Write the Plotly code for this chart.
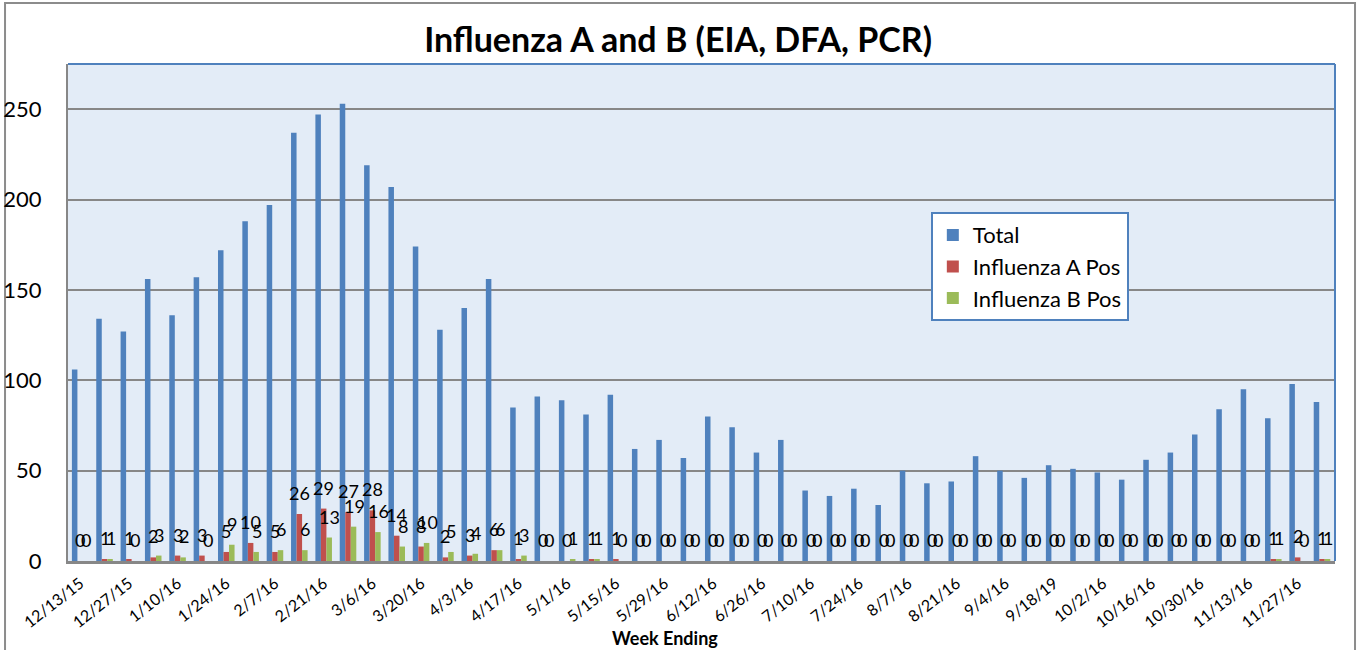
import plotly.graph_objects as go

weeks = ["12/13/15", "12/20/15", "12/27/15", "1/3/16", "1/10/16", "1/17/16", "1/24/16", "1/31/16",
         "2/7/16", "2/14/16", "2/21/16", "2/28/16", "3/6/16", "3/13/16", "3/20/16", "3/27/16",
         "4/3/16", "4/10/16", "4/17/16", "4/24/16", "5/1/16", "5/8/16", "5/15/16", "5/22/16",
         "5/29/16", "6/5/16", "6/12/16", "6/19/16", "6/26/16", "7/3/16", "7/10/16", "7/17/16",
         "7/24/16", "7/31/16", "8/7/16", "8/14/16", "8/21/16", "8/28/16", "9/4/16", "9/11/16",
         "9/18/19", "9/25/16", "10/2/16", "10/9/16", "10/16/16", "10/23/16", "10/30/16", "11/6/16",
         "11/13/16", "11/20/16", "11/27/16", "12/4/16"]

total = [106, 134, 127, 156, 136, 157, 172, 188, 197, 237, 247, 253, 219, 207, 174, 128,
         140, 156, 85, 91, 89, 81, 92, 62, 67, 57, 80, 74, 60, 67, 39, 36,
         40, 31, 50, 43, 44, 58, 50, 46, 53, 51, 49, 45, 56, 60, 70, 84,
         95, 79, 98, 88]

flu_a = [0, 1, 1, 2, 3, 3, 5, 10, 5, 26, 29, 27, 28, 14, 8, 2,
         3, 6, 1, 0, 0, 1, 1, 0, 0, 0, 0, 0, 0, 0, 0, 0,
         0, 0, 0, 0, 0, 0, 0, 0, 0, 0, 0, 0, 0, 0, 0, 0,
         0, 1, 2, 1]

flu_b = [0, 1, 0, 3, 2, 0, 9, 5, 6, 6, 13, 19, 16, 8, 10, 5,
         4, 6, 3, 0, 1, 1, 0, 0, 0, 0, 0, 0, 0, 0, 0, 0,
         0, 0, 0, 0, 0, 0, 0, 0, 0, 0, 0, 0, 0, 0, 0, 0,
         0, 1, 0, 1]

tick_labels = weeks[::2]

FONT = "Lato"
label_font = dict(family=FONT, size=18, color="black")

fig = go.Figure()
fig.add_trace(go.Bar(x=weeks, y=total, name="Total", marker_color="#4F81BD",
                     marker_line_width=0))
fig.add_trace(go.Bar(x=weeks, y=flu_a, name="Influenza A Pos", marker_color="#C0504D",
                     marker_line_width=0))
fig.add_trace(go.Bar(x=weeks, y=flu_b, name="Influenza B Pos", marker_color="#9BBB59",
                     marker_line_width=0))

annotations = []
for series, xs in ((flu_a, 0), (flu_b, 6)):
    for w, v in zip(weeks, series):
        annotations.append(dict(x=w, y=v, xref="x", yref="y", text=str(v), showarrow=False,
                                xanchor="center", yanchor="middle", xshift=xs, yshift=21,
                                font=label_font))
annotations.append(dict(text="<b>Week Ending</b>", xref="paper", yref="paper", x=0.471, y=-0.155,
                        xanchor="center", yanchor="middle", showarrow=False,
                        font=dict(family=FONT, size=18, color="black")))

fig.update_layout(
    width=1363, height=650,
    margin=dict(l=68, r=28, t=64, b=89, autoexpand=False),
    paper_bgcolor="white",
    plot_bgcolor="#E3ECF7",
    barmode="group",
    bargap=0.32,
    bargroupgap=0.0,
    title=dict(text="<b>Influenza A and B (EIA, DFA, PCR)</b>", x=0.4975, xanchor="center",
               y=0.938, yanchor="middle", font=dict(family=FONT, size=34, color="black")),
    font=dict(family=FONT, color="black"),
    showlegend=True,
    legend=dict(x=0.681, y=0.702, xanchor="left", yanchor="top", bgcolor="white",
                bordercolor="#4F81BD", borderwidth=2, font=dict(family=FONT, size=22),
                itemwidth=30, tracegroupgap=0),
    xaxis=dict(type="category", tickmode="array", tickvals=tick_labels, ticktext=tick_labels,
               tickangle=-38, tickfont=dict(family=FONT, size=16), showgrid=False,
               showline=True, linecolor="#878787", linewidth=3, ticks="", zeroline=False,
               automargin=False, ticklabelstandoff=4),
    yaxis=dict(range=[0, 275], tickvals=[0, 50, 100, 150, 200, 250],
               tickfont=dict(family=FONT, size=22), showgrid=True, gridcolor="#878787",
               gridwidth=2, showline=True, linecolor="#878787", linewidth=2, ticks="",
               ticklabelstandoff=20, zeroline=False, automargin=False),
    shapes=[
        dict(type="line", xref="paper", yref="paper", x0=0, x1=1, y0=1, y1=1,
             line=dict(color="#4F81BD", width=2)),
        dict(type="line", xref="paper", yref="paper", x0=1, x1=1, y0=0, y1=1,
             line=dict(color="#4F81BD", width=2)),
        dict(type="rect", xref="paper", yref="paper", x0=-0.0497, x1=1.0158, y0=-0.25, y1=1.1227,
             line=dict(color="#8C8C8C", width=2), layer="below"),
    ],
    annotations=annotations,
)

fig.write_html("out.html", config={"displayModeBar": False},
               post_script="document.body.style.margin='0px';")
